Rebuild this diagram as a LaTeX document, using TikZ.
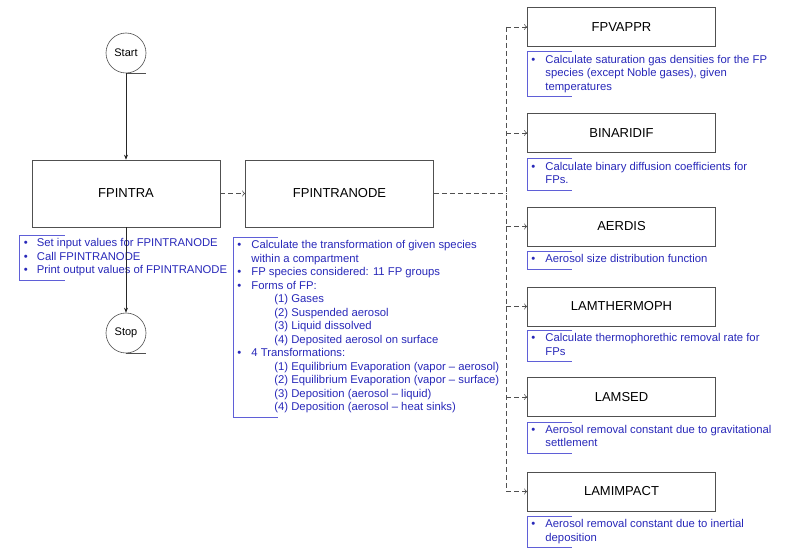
\documentclass[tikz,border=0pt]{standalone}
\usepackage{fontspec}
\setmainfont{Liberation Sans}
\usetikzlibrary{arrows.meta,positioning}
\definecolor{notetext}{RGB}{40,40,185}
\definecolor{noteline}{RGB}{95,95,215}
\definecolor{boxline}{RGB}{80,80,80}
\newcommand{\bul}{\textbullet}
\newcommand{\subitm}{\hspace*{23pt}}
\begin{document}
\begin{tikzpicture}[x=1pt,y=-1pt,
	routine/.style={draw=boxline,line width=0.6pt,minimum width=188pt,font=\fontsize{13}{15}\selectfont},
	terminal/.style={draw=boxline,line width=0.6pt,circle,minimum size=40pt,inner sep=0pt,font=\fontsize{11}{13}\selectfont},
	note/.style={anchor=north west,inner xsep=4pt,inner ysep=2pt,text=notetext,font=\fontsize{11.3}{13.5}\selectfont},
	bracket/.style={draw=noteline,line width=0.6pt},
	flow/.style={draw=black!85,line width=0.6pt,-{Stealth[length=5pt,width=4pt]}},
	call/.style={draw=boxline,line width=0.6pt,dash pattern=on 5pt off 3pt,-{To[length=3pt,width=6pt]}}]
	\useasboundingbox (0,0) rectangle (785,548);
	\node[terminal] (start) at (126,53) {Start};
	\node[routine,minimum height=67pt] (fpintra) at (126,193.5) {FPINTRA};
	\node[terminal] (stop) at (126,333) {Stop};
	\node[routine,minimum height=67pt] (fpintranode) at (339.5,193.5) {FPINTRANODE};
	\node[routine,minimum height=39pt] (fpvappr) at (621.5,27) {FPVAPPR};
	\node[routine,minimum height=39pt] (binaridif) at (621.5,133) {BINARIDIF};
	\node[routine,minimum height=39pt] (aerdis) at (621.5,226.5) {AERDIS};
	\node[routine,minimum height=39pt] (lamthermoph) at (621.5,306.5) {LAMTHERMOPH};
	\node[routine,minimum height=39pt] (lamsed) at (621.5,397) {LAMSED};
	\node[routine,minimum height=39pt] (lamimpact) at (621.5,491.5) {LAMIMPACT};
	\draw[boxline,line width=0.6pt] (start.south) -- ++(20,0);
	\draw[boxline,line width=0.6pt] (stop.south) -- ++(20,0);
	\node[note] (intranote) at ([shift={(-12,8)}]fpintra.south west) {\begin{tabular}{@{}p{13pt}@{}l@{}}
		\bul & Set input values for FPINTRANODE\\
		\bul & Call FPINTRANODE\\
		\bul & Print output values of FPINTRANODE
	\end{tabular}};
	\node[note] (nodenote) at ([shift={(-12,10)}]fpintranode.south west) {\begin{tabular}{@{}p{14pt}@{}l@{}}
		\bul & Calculate the transformation of given species\\
		& within a compartment\\
		\bul & FP species considered: 11 FP groups\\
		\bul & Forms of FP:\\
		& \subitm(1) Gases\\
		& \subitm(2) Suspended aerosol\\
		& \subitm(3) Liquid dissolved\\
		& \subitm(4) Deposited aerosol on surface\\
		\bul & 4 Transformations:\\
		& \subitm(1) Equilibrium Evaporation (vapor – aerosol)\\
		& \subitm(2) Equilibrium Evaporation (vapor – surface)\\
		& \subitm(3) Deposition (aerosol – liquid)\\
		& \subitm(4) Deposition (aerosol – heat sinks)
	\end{tabular}};
	\node[note] (vapnote) at ([shift={(0,5)}]fpvappr.south west) {\begin{tabular}{@{}p{14pt}@{}l@{}}
		\bul & Calculate saturation gas densities for the FP\\
		& species (except Noble gases), given\\
		& temperatures
	\end{tabular}};
	\node[note] (binnote) at ([shift={(0,6)}]binaridif.south west) {\begin{tabular}{@{}p{14pt}@{}l@{}}
		\bul & Calculate binary diffusion coefficients for\\
		& FPs.
	\end{tabular}};
	\node[note] (aernote) at ([shift={(0,5)}]aerdis.south west) {\begin{tabular}{@{}p{14pt}@{}l@{}}
		\bul & Aerosol size distribution function
	\end{tabular}};
	\node[note] (thermnote) at ([shift={(0,4)}]lamthermoph.south west) {\begin{tabular}{@{}p{14pt}@{}l@{}}
		\bul & Calculate thermophorethic removal rate for\\
		& FPs
	\end{tabular}};
	\node[note] (sednote) at ([shift={(0,5)}]lamsed.south west) {\begin{tabular}{@{}p{14pt}@{}l@{}}
		\bul & Aerosol removal constant due to gravitational\\
		& settlement
	\end{tabular}};
	\node[note] (impnote) at ([shift={(0,5)}]lamimpact.south west) {\begin{tabular}{@{}p{14pt}@{}l@{}}
		\bul & Aerosol removal constant due to inertial\\
		& deposition
	\end{tabular}};
	\foreach \n in {intranote,nodenote,vapnote,binnote,aernote,thermnote,sednote,impnote}
		\draw[bracket] ([xshift=45pt]\n.north west) -- (\n.north west) -- (\n.south west) -- ++(45,0);
	\draw[flow] (start) -- (fpintra);
	\draw[flow] (fpintra) -- (stop);
	\draw[call] (fpintra) -- (fpintranode);
	\coordinate (trunk) at (506,193.5);
	\draw[call,-] (fpintranode) -- (trunk);
	\draw[call,-] (trunk |- fpvappr.west) -- (trunk |- lamimpact.west);
	\foreach \b in {fpvappr,binaridif,aerdis,lamthermoph,lamsed,lamimpact}
		\draw[call] (trunk |- \b.west) -- (\b.west);
\end{tikzpicture}
\end{document}
